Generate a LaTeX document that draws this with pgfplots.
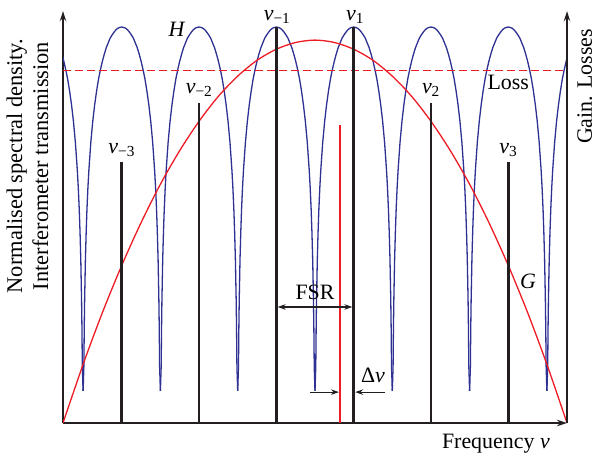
\documentclass[border=0pt]{standalone}
\usepackage{fontspec}
\setmainfont{Liberation Serif}
\usepackage{pgfplots}
\pgfplotsset{compat=1.18}
\usepackage{pgfplotstable}
\usetikzlibrary{arrows.meta}

\definecolor{hblue}{RGB}{46,49,146}
\definecolor{gred}{RGB}{237,28,36}
\definecolor{ink}{RGB}{35,31,32}

\newcommand\nuu[1]{\textit{ν}\textsubscript{#1}}

% one period of the interferometer transmission H, cusp to cusp (in FSR units)
\pgfplotstableread{
d      h
0      0.081
0.01   0.142
0.015  0.242
0.02   0.313
0.03   0.414
0.04   0.484
0.05   0.540
0.0625 0.595
0.075  0.639
0.1    0.709
0.125  0.762
0.15   0.804
0.175  0.839
0.2    0.869
0.225  0.893
0.25   0.914
0.275  0.932
0.3    0.948
0.325  0.960
0.35   0.972
0.375  0.980
0.4    0.987
0.425  0.993
0.45   0.997
0.475  0.999
0.5    1.000
0.525  0.999
0.55   0.997
0.575  0.993
0.6    0.987
0.625  0.980
0.65   0.972
0.675  0.960
0.7    0.948
0.725  0.932
0.75   0.914
0.775  0.893
0.8    0.869
0.825  0.839
0.85   0.804
0.875  0.762
0.9    0.709
0.925  0.639
0.9375 0.595
0.95   0.540
0.96   0.484
0.97   0.414
0.98   0.313
0.985  0.242
0.99   0.142
1      0.081
}\Hper

\begin{document}
\begin{tikzpicture}[font=\fontsize{22}{24}\selectfont,
  >={Stealth[length=8bp,width=5.5bp]}]
\useasboundingbox (-63bp,-33bp) rectangle (533bp,423bp);
\begin{axis}[
  scale only axis, width=504bp, height=411.8bp,
  xmin=-3.26, xmax=3.26, ymin=0, ymax=1.04,
  axis lines=left,
  axis line style={ink, line width=1.4bp, -{Stealth[length=10bp,width=6.5bp]}},
  ticks=none, clip mode=individual,
]
% H
\pgfplotsinvokeforeach{-4,-3,-2,-1,0,1,2,3}{
  \addplot[hblue, line width=1.3bp] table[x expr=\thisrow{d}+(#1), y=h] {\Hper};
}
% Loss
\addplot[gred, line width=1.3bp, dash pattern=on 8bp off 4bp]
  coordinates {(-3.26,0.891) (3.26,0.891)};
% G
\addplot[gred, line width=1.3bp, smooth] coordinates {
  (-3.26,0) (-3.0,0.148) (-2.75,0.279) (-2.5,0.398) (-2.25,0.506) (-2.0,0.603)
  (-1.75,0.688) (-1.5,0.762) (-1.25,0.825) (-1.0,0.876) (-0.75,0.916)
  (-0.5,0.944) (-0.25,0.961) (0,0.967) (0.25,0.961) (0.5,0.944) (0.75,0.916)
  (1.0,0.876) (1.25,0.825) (1.5,0.762) (1.75,0.688) (2.0,0.603) (2.25,0.506)
  (2.5,0.398) (2.75,0.279) (3.0,0.148) (3.26,0)};
% modes
\addplot[ink, line width=2.6bp, ycomb, mark=none] coordinates {
  (-2.5,0.659) (-1.5,0.808) (-0.5,1.0) (0.5,1.0) (1.5,0.808) (2.5,0.659)};
% gain centre
\addplot[gred, line width=1.2bp, ycomb, mark=none] coordinates {(0.323,0.753)};

\draw[ink, line width=1.4bp, -{Stealth[length=10bp,width=6.5bp]}]
  (axis cs:3.26,0) -- (axis cs:3.26,1.04);
\draw[<->, ink, line width=1.1bp] (axis cs:-0.483,0.293) -- (axis cs:0.483,0.293);
\draw[->, ink, line width=1.1bp] (axis cs:-0.065,0.078) -- (axis cs:0.31,0.078);
\draw[->, ink, line width=1.1bp] (axis cs:0.906,0.078) -- (axis cs:0.52,0.078);

\node at (axis cs:0,0.331) {FSR};
\node at (axis cs:0.75,0.121) {Δ\textit{ν}};
\node at (axis cs:-1.785,0.995) {\textit{H}};
\node at (axis cs:2.755,0.359) {\textit{G}};
\node at (axis cs:2.5,0.859) {Loss};
\node at (axis cs:-0.49,1.025) {\nuu{−1}};
\node at (axis cs:0.517,1.025) {\nuu{1}};
\node at (axis cs:-1.5,0.841) {\nuu{−2}};
\node at (axis cs:1.5,0.841) {\nuu{2}};
\node at (axis cs:-2.5,0.689) {\nuu{−3}};
\node at (axis cs:2.5,0.689) {\nuu{3}};
\node at (axis cs:2.34,-0.051) {Frequency \textit{ν}};
\node[rotate=90, align=center, font=\fontsize{22.5}{26}\selectfont]
  at (axis cs:-3.72,0.649) {Normalised spectral density.\\Interferometer transmission};
\node[rotate=90] at (axis cs:3.49,0.85) {Gain. Losses};
\end{axis}
\end{tikzpicture}
\end{document}
